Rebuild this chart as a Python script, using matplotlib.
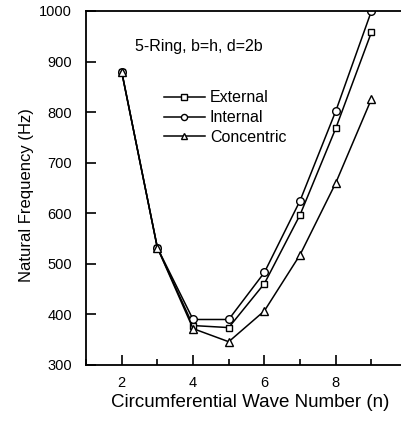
import matplotlib
matplotlib.use("Agg")
import matplotlib.pyplot as plt
from matplotlib.ticker import MultipleLocator

########  data  ########

n = [2, 3, 4, 5, 6, 7, 8, 9]
external = [880, 532, 378, 374, 461, 597, 768, 958]
internal = [880, 532, 390, 390, 483, 625, 802, 1000]
concentric = [880, 532, 372, 346, 407, 518, 660, 826]

plt.rcParams["font.family"] = ["Liberation Sans", "DejaVu Sans"]

fig = plt.figure(figsize=(4.02, 4.21), dpi=100)
ax = fig.add_axes([86 / 402, 1 - 365 / 421, (402 - 86) / 402, (365 - 11) / 421])

ax.plot(n, external, "k-", marker="s", ms=5, mfc="white", mec="black", lw=1.1, label="External")
ax.plot(n, internal, "k-", marker="o", ms=5.5, mfc="white", mec="black", lw=1.1, label="Internal")
ax.plot(n, concentric, "k-", marker="^", ms=6, mfc="white", mec="black", lw=1.1, label="Concentric")

ax.set_xlim(1, 1 + (402 - 86.7) / 35.6)
ax.set_ylim(300, 1000)
ax.xaxis.set_major_locator(MultipleLocator(2))
ax.xaxis.set_minor_locator(MultipleLocator(1))
ax.yaxis.set_major_locator(MultipleLocator(100))
ax.tick_params(which="both", direction="in", top=False, right=False, labelsize=10.5)
ax.tick_params(which="major", length=7, width=1.2)
ax.tick_params(which="minor", length=4, width=1.2)
ax.tick_params(axis="y", pad=10)
ax.tick_params(axis="x", pad=8)
ax.spines["right"].set_visible(False)
for s in ["left", "bottom", "top"]:
    ax.spines[s].set_linewidth(1.3)

ax.set_xlabel("Circumferential Wave Number (n)", fontsize=13.5)
ax.set_ylabel("Natural Frequency (Hz)", fontsize=12)
ax.xaxis.set_label_coords(0.52, -0.082)
ax.yaxis.set_label_coords(-0.165, 0.48)

ax.text(0.155, 0.9, "5-Ring, b=h, d=2b", transform=ax.transAxes, fontsize=11.5, va="center")
ax.legend(loc="upper left", bbox_to_anchor=(0.22, 0.798), frameon=False, fontsize=11.5,
          handlelength=2.6, handletextpad=0.3, labelspacing=0.3, borderpad=0, markerscale=0.8)

plt.savefig("out.png", dpi=100)
plt.close()
